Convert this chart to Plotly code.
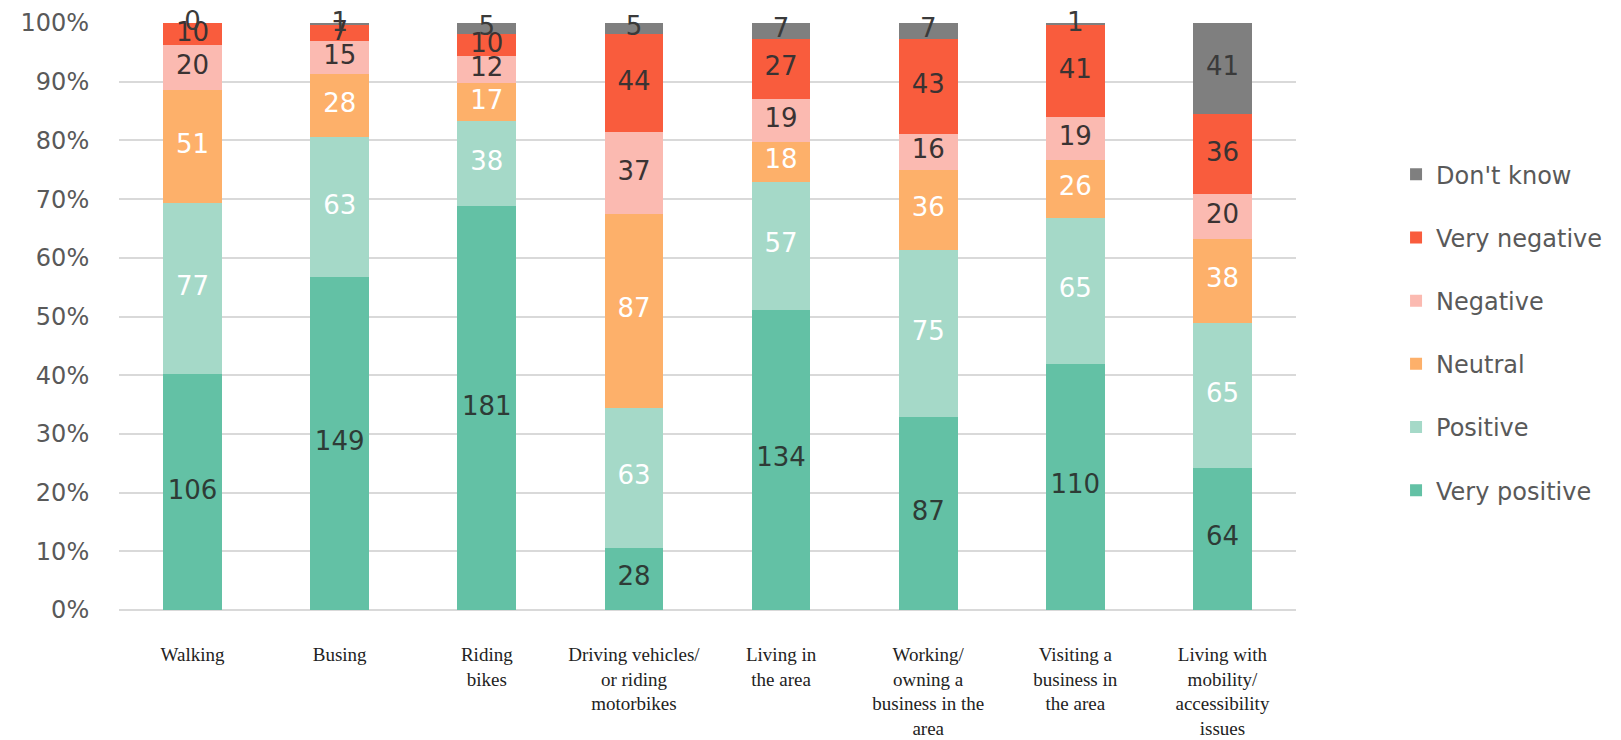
import plotly.graph_objects as go
import numpy as np

categories = [
    "Walking",
    "Busing",
    "Riding<br>bikes",
    "Driving vehicles/<br>or riding<br>motorbikes",
    "Living in<br>the area",
    "Working/<br>owning a<br>business in the<br>area",
    "Visiting a<br>business in<br>the area",
    "Living with<br>mobility/<br>accessibility<br>issues",
]
very_positive = [106, 149, 181, 28, 134, 87, 110, 64]
positive = [77, 63, 38, 63, 57, 75, 65, 65]
neutral = [51, 28, 17, 87, 18, 36, 26, 38]
negative = [20, 15, 12, 37, 19, 16, 19, 20]
very_negative = [10, 7, 10, 44, 27, 43, 41, 36]
dont_know = [0, 1, 5, 5, 7, 7, 1, 41]

series_names = ["Very positive", "Positive", "Neutral", "Negative", "Very negative", "Don't know"]
series_values = [very_positive, positive, neutral, negative, very_negative, dont_know]
series_colors = ["#63C1A5", "#A5D9C8", "#FDB06A", "#FBBAB1", "#F95C3D", "#7F7F7F"]
label_colors = ["#2E3B36", "#FFFFFF", "#FFFFFF", "#3A3333", "#3A3333", "#3A3A3A"]

tick_font = "DejaVu Sans, sans-serif"
cat_font = "Liberation Serif, serif"

fig = go.Figure()

vals = np.array(series_values, dtype=float)
totals = vals.sum(axis=0)
pct = vals / totals * 100
cum = np.cumsum(pct, axis=0)
mid = cum - pct / 2

n = len(series_names)
for i, name in enumerate(series_names):
    fig.add_trace(go.Bar(
        x=categories, y=series_values[i], name=name,
        marker=dict(color=series_colors[i], line=dict(width=0)),
        width=0.4, legendgroup=name, legendrank=100 * (n - i),
    ))

for i, name in enumerate(series_names):
    fig.add_trace(go.Scatter(
        x=categories, y=mid[i], mode="text",
        text=[str(v) for v in series_values[i]],
        textposition="middle center",
        textfont=dict(family=tick_font, size=26, color=label_colors[i]),
        showlegend=False, hoverinfo="skip", cliponaxis=False,
    ))

fig.update_layout(
    width=1621, height=740,
    margin=dict(l=119, r=325, t=23, b=130),
    barmode="stack", barnorm="percent",
    plot_bgcolor="white", paper_bgcolor="white",
    legend=dict(
        x=1.085, y=0.78, xanchor="left", yanchor="top",
        traceorder="grouped", tracegroupgap=29,
        font=dict(family=tick_font, size=24, color="#595959"),
    ),
    showlegend=True,
)
fig.update_yaxes(
    range=[0, 100], tickvals=list(range(0, 101, 10)),
    ticktext=[f"{v}%" for v in range(0, 101, 10)],
    showgrid=True, gridcolor="#D9D9D9", gridwidth=2,
    zeroline=True, zerolinecolor="#D9D9D9", zerolinewidth=2,
    ticks="outside", ticklen=24, tickcolor="rgba(0,0,0,0)",
    tickfont=dict(family=tick_font, size=24, color="#595959"),
    showline=False, automargin=False,
)
fig.update_xaxes(
    showgrid=False, ticks="outside", ticklen=27, tickcolor="rgba(0,0,0,0)",
    tickfont=dict(family=cat_font, size=19, color="#222222"),
    tickangle=0, showline=False, automargin=False,
)

fig.write_html("out.html")
